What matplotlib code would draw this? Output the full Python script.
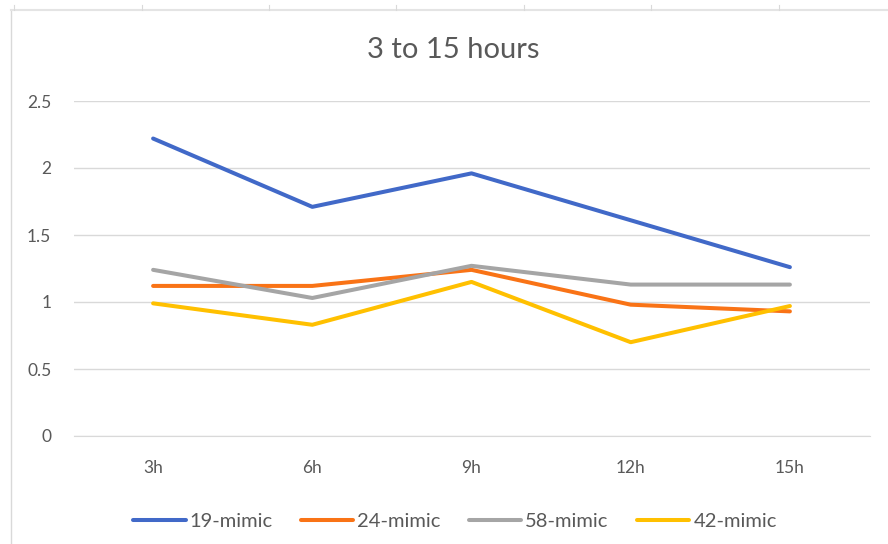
import matplotlib.pyplot as plt
from matplotlib.lines import Line2D

plt.rcParams['font.family'] = ['Lato', 'DejaVu Sans']

hours = ['3h', '6h', '9h', '12h', '15h']
mimic_19 = [2.22, 1.71, 1.96, 1.61, 1.26]
mimic_24 = [1.12, 1.12, 1.24, 0.98, 0.93]
mimic_58 = [1.24, 1.03, 1.27, 1.13, 1.13]
mimic_42 = [0.99, 0.83, 1.15, 0.70, 0.97]
series_names = ['19-mimic', '24-mimic', '58-mimic', '42-mimic']
colors = ['#4169C8', '#F97316', '#A5A5A5', '#FFC000']

W, H = 888, 544
fig = plt.figure(figsize=(W / 100, H / 100), dpi=100)
ax = fig.add_axes([73.5 / W, 108 / H, 796 / W, 335 / H])

x = range(len(hours))
for vals, name, c in zip([mimic_19, mimic_24, mimic_58, mimic_42], series_names, colors):
    ax.plot(x, vals, color=c, lw=2.9, label=name, solid_capstyle='round', solid_joinstyle='round')

ax.set_xlim(-0.5, len(hours) - 0.5)
ax.set_ylim(0, 2.5)
ax.set_xticks(list(x))
ax.set_xticklabels(hours)
ax.set_yticks([0, 0.5, 1, 1.5, 2, 2.5])
ax.set_yticklabels(['0', '0.5', '1', '1.5', '2', '2.5'])
ax.tick_params(colors='#595959', labelsize=12.5, length=0)
ax.tick_params(axis='y', pad=16)
ax.tick_params(axis='x', pad=17)
ax.grid(axis='y', color='#D9D9D9', lw=1)
ax.set_axisbelow(True)
for s in ['top', 'right', 'left']:
    ax.spines[s].set_visible(False)
ax.spines['bottom'].set_color('#D9D9D9')

fig.text(453 / W, 1 - 50 / H, '3 to 15 hours', ha='center', va='center',
         fontsize=21, color='#595959')

# chart frame and sheet column marks
fig.add_artist(Line2D([11 / W, 11 / W], [0, 1 - 10 / H], color='#D9D9D9', lw=1))
fig.add_artist(Line2D([11 / W, 1], [1 - 10 / H, 1 - 10 / H], color='#E4E4E4', lw=1.5))
for px in [14, 142, 269, 396, 524, 651, 779]:
    fig.add_artist(Line2D([px / W, px / W], [1 - 10 / H, 1 - 5 / H], color='#D9D9D9', lw=0.8))

fig.legend(loc='center', bbox_to_anchor=(455 / W, 1 - 521 / H), ncol=4, frameon=False,
           fontsize=14.5, labelcolor='#595959', handlelength=2.6, handletextpad=0.2,
           columnspacing=1.4)

fig.savefig('out.png', dpi=100, facecolor='white')
